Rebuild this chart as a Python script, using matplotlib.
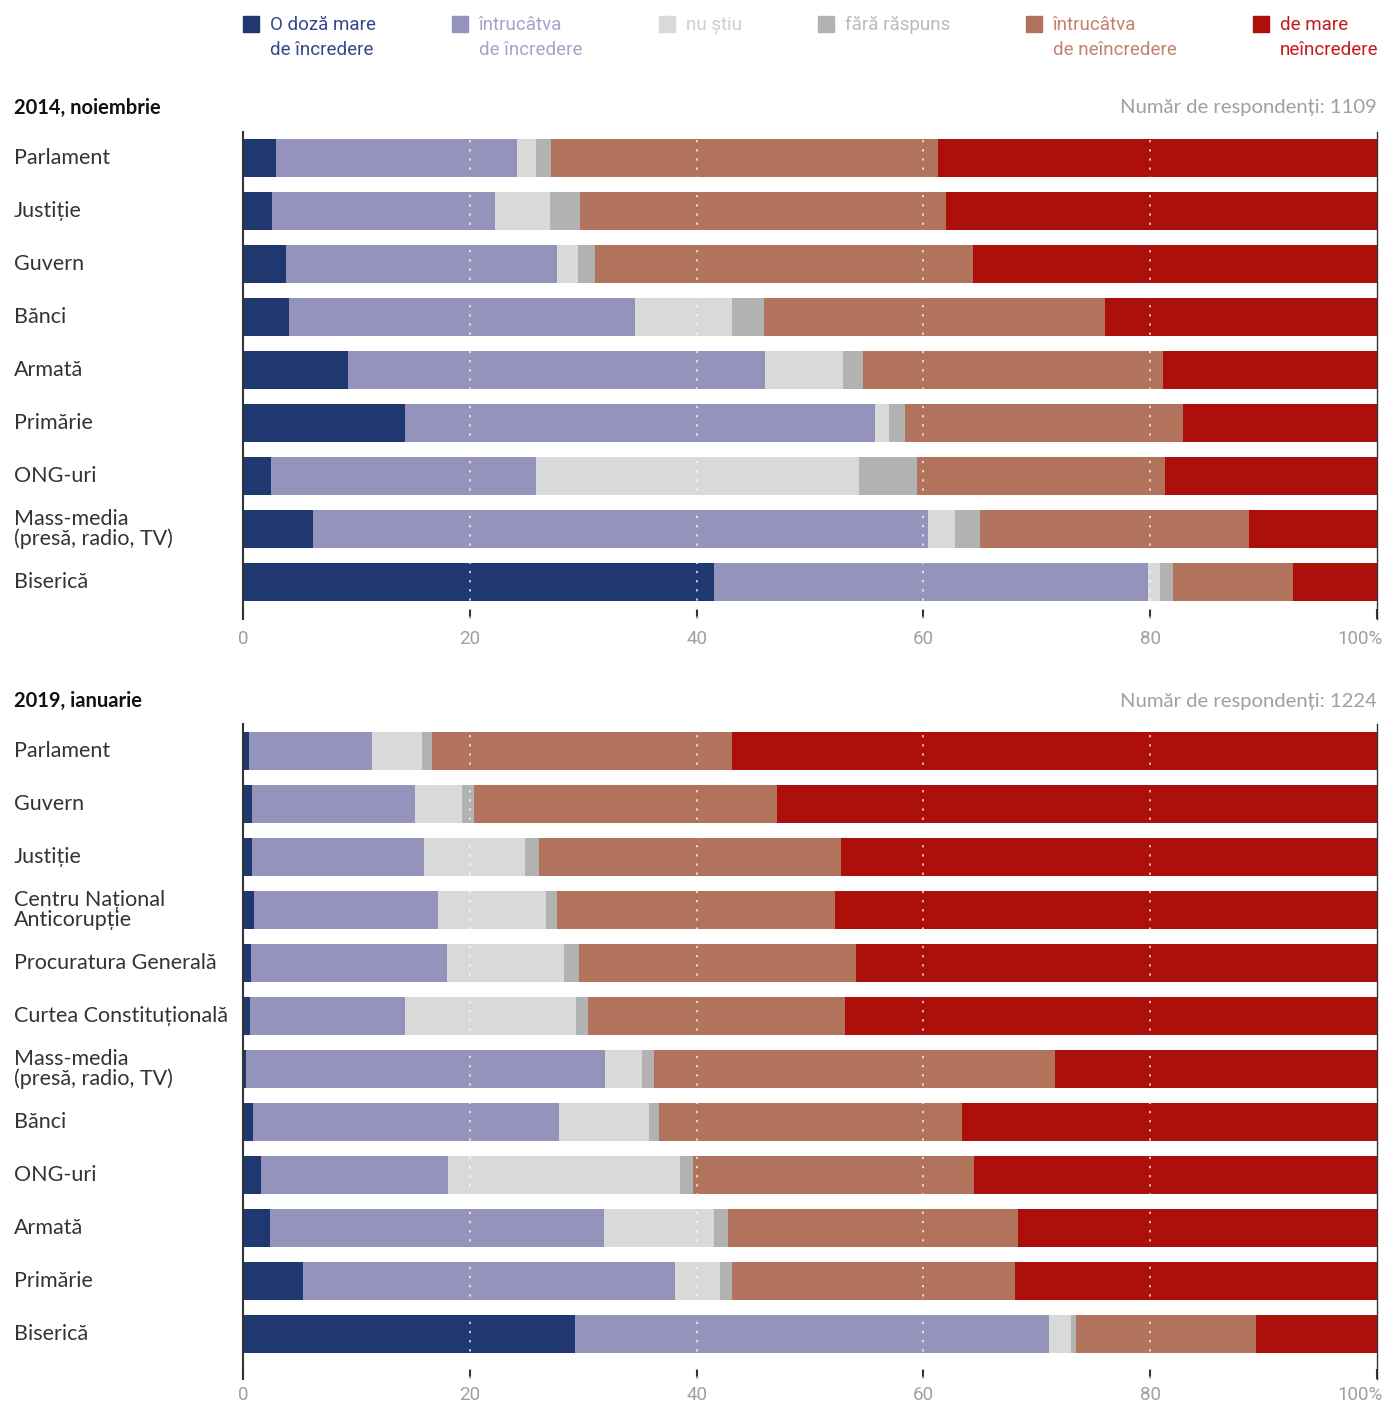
import matplotlib
matplotlib.use("Agg")
import matplotlib.pyplot as plt
import numpy as np
from matplotlib.patches import Rectangle
from matplotlib.transforms import blended_transform_factory, ScaledTranslation

plt.rcParams['font.family'] = ['Lato', 'DejaVu Sans']

# legend / series
series_names = ["O doză mare\nde încredere", "întrucâtva\nde încredere", "nu știu",
                "fără răspuns", "întrucâtva\nde neîncredere", "de mare\nneîncredere"]
colors = ["#1f3870", "#9393bb", "#d9d9d9", "#b2b2b2", "#b1735c", "#ad0f0b"]
text_colors = ["#34478a", "#a3a3cb", "#cdcdcd", "#bababa", "#c2826c", "#c41a1f"]

# 2014, noiembrie
cat_2014 = ["Parlament", "Justiție", "Guvern", "Bănci", "Armată", "Primărie",
            "ONG-uri", "Mass-media\n(presă, radio, TV)", "Biserică"]
mare_incr_2014 = [2.9, 2.6, 3.8, 4.1, 9.3, 14.3, 2.5, 6.2, 41.5]
intr_incr_2014 = [21.3, 19.6, 23.9, 30.5, 36.7, 41.4, 23.3, 54.2, 38.3]
nu_stiu_2014 = [1.6, 4.9, 1.8, 8.5, 6.9, 1.3, 28.5, 2.4, 1.1]
fara_rasp_2014 = [1.4, 2.6, 1.5, 2.8, 1.8, 1.4, 5.1, 2.2, 1.1]
intr_neincr_2014 = [34.1, 32.3, 33.4, 30.1, 26.4, 24.5, 21.9, 23.7, 10.6]
mare_neincr_2014 = [38.7, 38.0, 35.6, 24.0, 18.9, 17.1, 18.7, 11.3, 7.4]

# 2019, ianuarie
cat_2019 = ["Parlament", "Guvern", "Justiție", "Centru Național\nAnticorupție",
            "Procuratura Generală", "Curtea Constituțională",
            "Mass-media\n(presă, radio, TV)", "Bănci", "ONG-uri", "Armată",
            "Primărie", "Biserică"]
mare_incr_2019 = [0.5, 0.8, 0.8, 1.0, 0.7, 0.6, 0.3, 0.9, 1.6, 2.4, 5.3, 29.3]
intr_incr_2019 = [10.9, 14.4, 15.2, 16.2, 17.3, 13.7, 31.6, 27.0, 16.5, 29.4, 32.8, 41.8]
nu_stiu_2019 = [4.4, 4.1, 8.9, 9.5, 10.3, 15.1, 3.3, 7.9, 20.4, 9.7, 4.0, 1.9]
fara_rasp_2019 = [0.9, 1.1, 1.2, 1.0, 1.3, 1.0, 1.0, 0.9, 1.2, 1.3, 1.0, 0.5]
intr_neincr_2019 = [26.4, 26.7, 26.6, 24.5, 24.5, 22.7, 35.4, 26.7, 24.8, 25.5, 25.0, 15.8]
mare_neincr_2019 = [56.9, 52.9, 47.3, 47.8, 45.9, 46.9, 28.4, 36.6, 35.5, 31.7, 31.9, 10.7]

x_ticks = [0, 20, 40, 60, 80, 100]
x_ticklabels = ["0", "20", "40", "60", "80", "100%"]

W, H = 1385, 1405
fig = plt.figure(figsize=(W / 100, H / 100), dpi=100)


def fx(px):
    return px / W


def fy(py):
    return 1 - py / H


def panel(top, bottom, first_center, cats, values, title, respondents, title_y, pad):
    ax = fig.add_axes([fx(243), fy(bottom), fx(1377) - fx(243), fy(top) - fy(bottom)])
    n = len(cats)
    y = np.arange(n)
    left = np.zeros(n)
    for vals, c in zip(values, colors):
        vals = np.array(vals)
        ax.barh(y, vals, left=left, height=0.72, color=c, linewidth=0, zorder=2)
        left += vals
    for v in [20, 40, 60, 80]:
        ax.axvline(v, color="white", lw=1.1, linestyle=(0, (1.5, 4.5)), zorder=3, alpha=0.9)
    ax.set_xlim(0, 100)
    ax.set_ylim((bottom - first_center) / 53, (top - first_center) / 53)
    for s in ["top", "bottom"]:
        ax.spines[s].set_visible(False)
    ax.spines["left"].set_color("#333333")
    ax.spines["left"].set_linewidth(1.5)
    ax.spines["right"].set_color("#333333")
    ax.spines["right"].set_linewidth(1.0)
    ax.set_yticks([])
    ax.set_xticks(x_ticks)
    ax.set_xticklabels(x_ticklabels, family=["Roboto", "DejaVu Sans"])
    ax.tick_params(axis="x", direction="in", length=7, width=1.5, color="#333333",
                   pad=pad, labelsize=13.5, labelcolor="#a0a0a0")
    last = ax.get_xticklabels()[-1]
    last.set_ha("right")
    last.set_transform(last.get_transform() + ScaledTranslation(6 / 100, 0, fig.dpi_scale_trans))

    tr = blended_transform_factory(fig.transFigure, ax.transData)
    for i, c in enumerate(cats):
        ax.text(fx(14), i, c, transform=tr, ha="left", va="center", fontsize=15.5,
                color="#333333", linespacing=1.0)
    fig.text(fx(14), fy(title_y), title, ha="left", va="center", fontsize=14.5,
             fontweight="bold", color="#111111")
    fig.text(fx(1377), fy(title_y), "Număr de respondenți: " + respondents, ha="right",
             va="center", fontsize=14.6, color="#a0a0a0")
    return ax


panel(132, 619, 158, cat_2014,
      [mare_incr_2014, intr_incr_2014, nu_stiu_2014, fara_rasp_2014,
       intr_neincr_2014, mare_neincr_2014],
      "2014, noiembrie", "1109", 108, 8)
panel(724, 1379, 751, cat_2019,
      [mare_incr_2019, intr_incr_2019, nu_stiu_2019, fara_rasp_2019,
       intr_neincr_2019, mare_neincr_2019],
      "2019, ianuarie", "1224", 701, 5)

# legend at top
sq_x = [243, 452, 659, 818, 1026, 1253]
for xs, name, c, tc in zip(sq_x, series_names, colors, text_colors):
    fig.patches.append(Rectangle((fx(xs), fy(32)), fx(16), 16 / H, color=c,
                                 transform=fig.transFigure, figure=fig))
    for k, line in enumerate(name.split("\n")):
        fig.text(fx(xs + 27), fy(25 + 25 * k), line, ha="left", va="center",
                 fontsize=13.5, color=tc, family=["Roboto", "DejaVu Sans"])

fig.savefig("out.png", dpi=100, facecolor="white")
